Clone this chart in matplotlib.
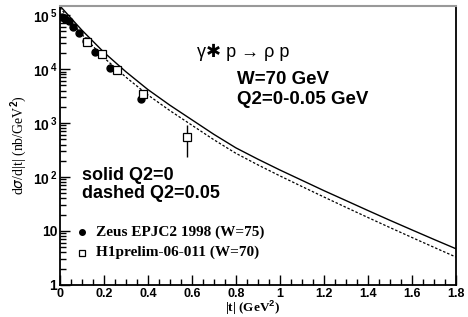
import numpy as np
import matplotlib
matplotlib.use("Agg")
import matplotlib.pyplot as plt
from matplotlib.ticker import FixedLocator, FixedFormatter, LogLocator, NullFormatter, MultipleLocator

plt.rcParams['mathtext.fontset'] = 'custom'
plt.rcParams['mathtext.rm'] = 'Liberation Sans:bold'
plt.rcParams['mathtext.bf'] = 'Liberation Sans:bold'

# model curves
t_curve = [0.0, 0.1, 0.2, 0.3, 0.4, 0.5, 0.6, 0.7, 0.8, 0.9,
           1.0, 1.1, 1.2, 1.3, 1.4, 1.5, 1.6, 1.7, 1.8]
solid_q0 = [147900, 52480, 20420, 8913, 4169, 2138, 1148, 617, 347, 214,
            135, 87, 56, 36.7, 24, 15.8, 10.5, 7.0, 4.7]
dashed_q005 = [138000, 43650, 16220, 7079, 3311, 1698, 912, 490, 275, 168,
               105, 66.8, 42.7, 27.5, 17.8, 11.6, 7.6, 5.0, 3.3]

# ZEUS data
zeus_t = [0.01, 0.025, 0.04, 0.06, 0.085, 0.12, 0.16, 0.23, 0.37]
zeus_val = [9.1e4, 8.3e4, 7.6e4, 5.9e4, 4.6e4, 3.3e4, 2.1e4, 1.03e4, 2.8e3]

# H1 preliminary data
h1_t = [0.125, 0.19, 0.26, 0.38, 0.58]
h1_val = [3.2e4, 1.9e4, 9.8e3, 3.4e3, 540]
h1_err_lo = [0, 0, 0, 0, 306]
h1_err_hi = [0, 0, 0, 0, 380]

xticks = [0, 0.2, 0.4, 0.6, 0.8, 1.0, 1.2, 1.4, 1.6, 1.8]
xticklabels = ['0', '0.2', '0.4', '0.6', '0.8', '1', '1.2', '1.4', '1.6', '1.8']
yticks = [1, 10, 1e2, 1e3, 1e4, 1e5]
yticklabels = ['1', '10', r'$\mathbf{10^{\,2}}$', r'$\mathbf{10^{\,3}}$',
               r'$\mathbf{10^{\,4}}$', r'$\mathbf{10^{\,5}}$']

fig = plt.figure(figsize=(4.68, 3.17), dpi=100)
ax = fig.add_axes([0.128, 0.101, 0.846, 0.880])

ax.plot(t_curve, solid_q0, color='black', lw=1.0)
ax.plot(t_curve, dashed_q005, color='black', lw=0.9, linestyle=(0, (2, 1.5)))

ax.plot(zeus_t, zeus_val, 'o', color='black', ms=5, zorder=3)
ax.errorbar(h1_t, h1_val, yerr=[h1_err_lo, h1_err_hi], fmt='s', mfc='white',
            mec='black', color='black', ms=6, mew=0.9, elinewidth=1.0, capsize=0, zorder=4)

ax.set_yscale('log')
ax.set_xlim(0, 1.8)
ax.set_ylim(1, 1.47e5)

ax.xaxis.set_major_locator(FixedLocator(xticks))
ax.xaxis.set_major_formatter(FixedFormatter(xticklabels))
ax.xaxis.set_minor_locator(MultipleLocator(0.05))
ax.yaxis.set_major_locator(FixedLocator(yticks))
ax.yaxis.set_major_formatter(FixedFormatter(yticklabels))
ax.yaxis.set_minor_locator(LogLocator(base=10, subs=np.arange(2, 10)))
ax.yaxis.set_minor_formatter(NullFormatter())

ax.tick_params(which='both', direction='in', top=False, right=False, width=1.0)
ax.tick_params(which='major', length=7)
ax.tick_params(which='minor', length=4)
ax.tick_params(axis='x', which='major', labelsize=9, pad=2)
ax.tick_params(axis='y', which='major', labelsize=10, pad=2)
for lab in ax.get_xticklabels() + ax.get_yticklabels():
    lab.set_fontfamily('Liberation Sans')
    lab.set_fontweight('bold')

for side in ['left', 'bottom', 'right']:
    ax.spines[side].set_linewidth(1.3)
ax.spines['top'].set_color('#999999')
ax.spines['top'].set_linewidth(1.5)

ax.set_xlabel(r'|t| (GeV$^{2}$)', family='Liberation Serif', fontweight='bold', fontsize=9.5)
ax.xaxis.set_label_coords(0.487, -0.05)
ax.set_ylabel(r'd$\sigma$/d|t| (nb/GeV$^{2}$)', family='Liberation Serif', fontsize=10)
ax.yaxis.set_label_coords(-0.078, 0.5)

ax.text(0.347, 0.835, 'γ✱ p → ρ p', transform=ax.transAxes, fontsize=13,
        family=['Liberation Sans', 'DejaVu Sans'], va='center')
ax.text(0.447, 0.735, 'W=70 GeV', transform=ax.transAxes, fontsize=13.5,
        family='Liberation Sans', fontweight='bold', va='center')
ax.text(0.447, 0.665, 'Q2=0-0.05 GeV', transform=ax.transAxes, fontsize=13.5,
        family='Liberation Sans', fontweight='bold', va='center')
ax.text(0.055, 0.394, 'solid Q2=0', transform=ax.transAxes, fontsize=13,
        family='Liberation Sans', fontweight='bold', va='center')
ax.text(0.055, 0.327, 'dashed Q2=0.05', transform=ax.transAxes, fontsize=13,
        family='Liberation Sans', fontweight='bold', va='center')

# legend drawn by hand in the ROOT style
ax.plot([0.0556], [0.19], 'o', color='black', ms=4, transform=ax.transAxes, clip_on=False)
ax.text(0.09, 0.19, 'Zeus EPJC2 1998 (W=75)', transform=ax.transAxes, fontsize=11,
        family='Liberation Serif', fontweight='bold', va='center')
ax.plot([0.0556], [0.116], 's', mfc='white', mec='black', ms=5, mew=0.9,
        transform=ax.transAxes, clip_on=False)
ax.text(0.09, 0.116, 'H1prelim-06-011 (W=70)', transform=ax.transAxes, fontsize=11,
        family='Liberation Serif', fontweight='bold', va='center')

fig.savefig('out.png', dpi=100)
